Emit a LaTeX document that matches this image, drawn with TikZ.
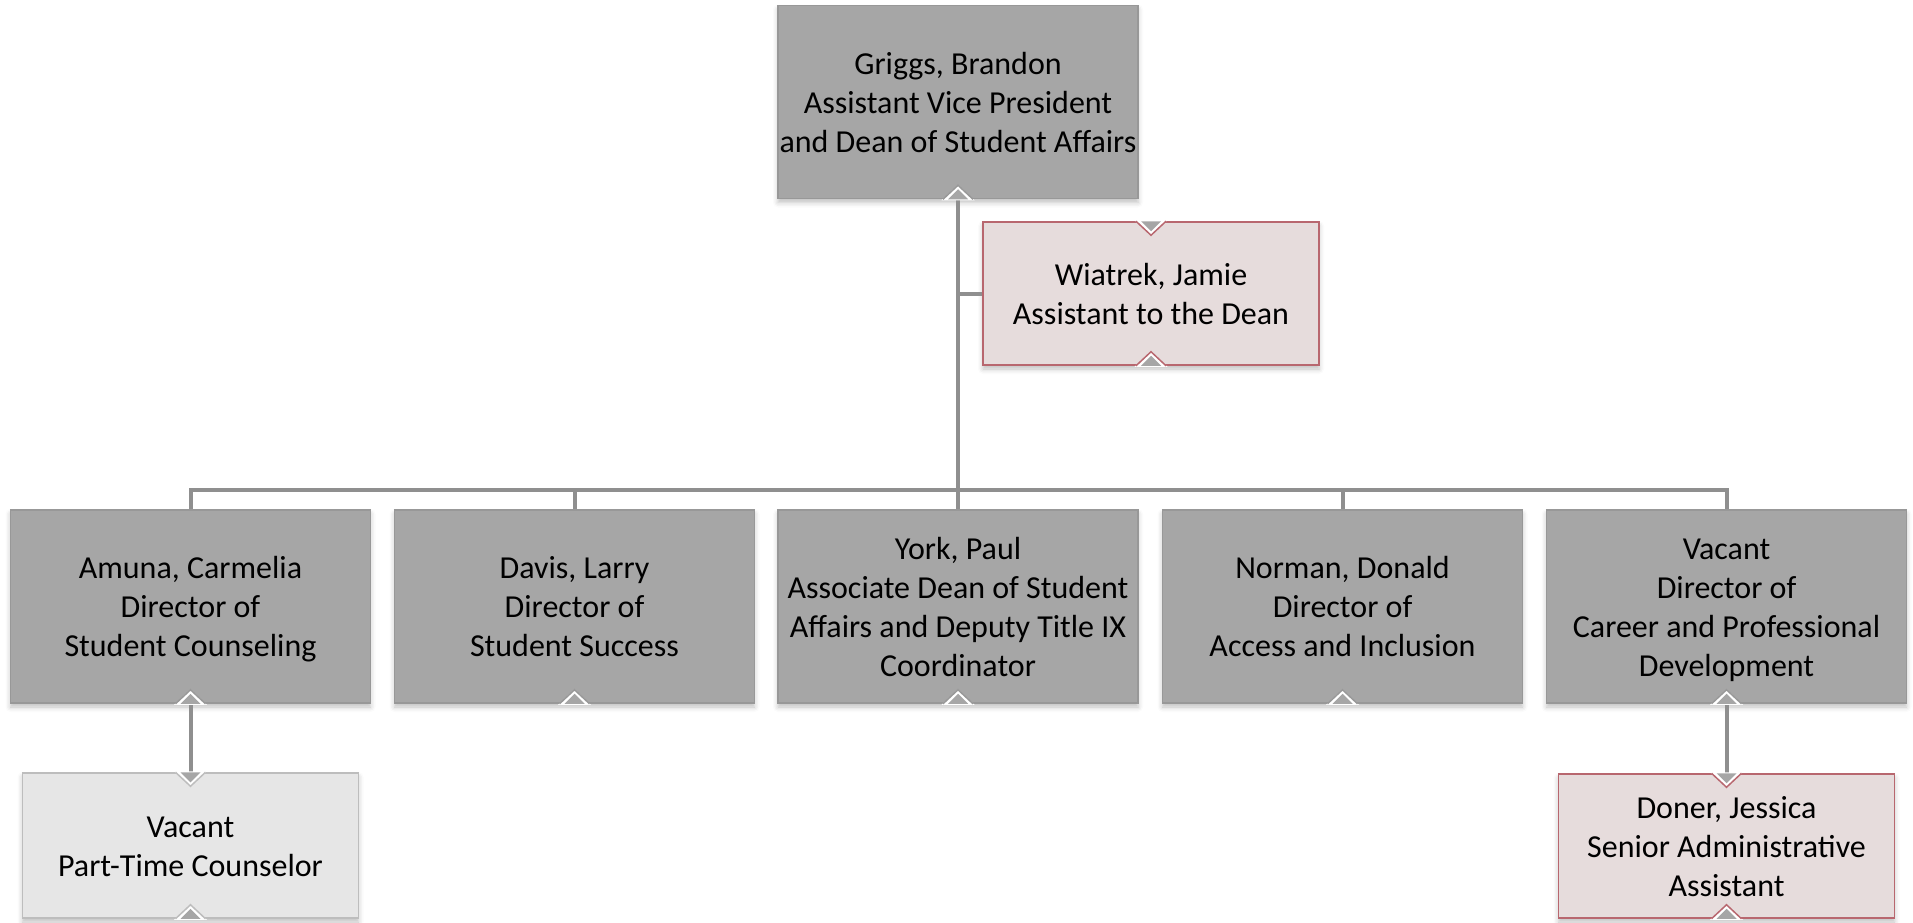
\documentclass[tikz,border=0pt]{standalone}
\usepackage{fontspec}
\setmainfont{Carlito}
\usetikzlibrary{shadows.blur}
\definecolor{boxgray}{HTML}{A6A6A6}
\definecolor{boxgrayline}{HTML}{989898}
\definecolor{pinkfill}{HTML}{E6DCDC}
\definecolor{pinkline}{HTML}{B8676F}
\definecolor{lightfill}{HTML}{E6E6E6}
\definecolor{lightline}{HTML}{BDBDBD}
\definecolor{linkgray}{HTML}{8F8F8F}
\definecolor{arrowgray}{HTML}{A6A6A6}
\newcommand\hs{\rule{0pt}{30pt}}
\newcommand\ds{\rule[-7.5pt]{0pt}{7.5pt}}
\tikzset{
  orgbox/.style={rectangle, align=center, inner sep=0pt, line width=1.5pt,
    font=\fontsize{32}{39}\selectfont,
    blur shadow={shadow xshift=0pt, shadow yshift=-4pt, shadow blur radius=5pt, shadow opacity=25}},
  graybox/.style={orgbox, fill=boxgray, draw=boxgrayline, minimum width=360pt, minimum height=193pt},
  pinkbox/.style={orgbox, fill=pinkfill, draw=pinkline, minimum width=336pt, minimum height=143pt},
  lightbox/.style={orgbox, fill=lightfill, draw=lightline, minimum width=336pt, minimum height=145pt},
  link/.style={draw=linkgray, line width=4pt}
}
\newcommand\notchbot[2]{%
  \fill[white] (#1.south) ++(-16.5,1) -- ++(16.5,-15.5) -- ++(16.5,15.5) -- cycle;
  \draw[#2, line width=1.5pt] (#1.south) ++(-15,0) -- ++(15,-14) -- ++(15,14);
  \fill[arrowgray] (#1.south) ++(-10,0) -- ++(10,-10) -- ++(10,10) -- cycle;
}
\newcommand\notchtop[2]{%
  \fill[white] (#1.north) ++(-16.5,-1) -- ++(16.5,15.5) -- ++(16.5,-15.5) -- cycle;
  \draw[#2, line width=1.5pt] (#1.north) ++(-15,0) -- ++(15,14) -- ++(15,-14);
  \fill[arrowgray] (#1.north) ++(-10,0) -- ++(10,10) -- ++(10,-10) -- cycle;
}
\begin{document}
\begin{tikzpicture}[x=1pt, y=-1pt]
\useasboundingbox (0,0) rectangle (1913,923);
% nodes
\node[graybox] (griggs) at (958,102) {\hs Griggs, Brandon\\Assistant Vice President\\and Dean of Student Affairs\ds};
\node[pinkbox] (wiatrek) at (1151,293.5) {\hs Wiatrek, Jamie\\Assistant to the Dean\ds};
\node[graybox] (amuna) at (190.5,606.5) {\hs Amuna, Carmelia\\Director of\\Student Counseling\ds};
\node[graybox] (davis) at (574.5,606.5) {\hs Davis, Larry\\Director of\\Student Success\ds};
\node[graybox] (york) at (958,606.5) {\hs York, Paul\\Associate Dean of Student\\Affairs and Deputy Title IX\\Coordinator\ds};
\node[graybox] (norman) at (1342.5,606.5) {\hs Norman, Donald\\Director of\\Access and Inclusion\ds};
\node[graybox] (vacant) at (1726.5,606.5) {\hs Vacant\\Director of\\Career and Professional\\Development\ds};
\node[lightbox] (parttime) at (190.5,845.5) {\hs Vacant\\Part-Time Counselor\ds};
\node[pinkbox, minimum height=144pt] (doner) at (1726.5,846) {\hs Doner, Jessica\\Senior Administrative\\Assistant\ds};
% connectors
\coordinate (bus) at (958,490);
\draw[link] (griggs.south) -- (york.north);
\draw[link] (wiatrek.west) -- (wiatrek.west -| griggs.south);
\draw[link] (amuna.north) |- (bus) -| (vacant.north);
\draw[link] (davis.north) -- (davis.north |- bus);
\draw[link] (norman.north) -- (norman.north |- bus);
\draw[link] (amuna.south) -- (parttime.north);
\draw[link] (vacant.south) -- (doner.north);
% notches
\notchbot{griggs}{boxgrayline}
\notchbot{amuna}{boxgrayline}
\notchbot{davis}{boxgrayline}
\notchbot{york}{boxgrayline}
\notchbot{norman}{boxgrayline}
\notchbot{vacant}{boxgrayline}
\notchtop{wiatrek}{pinkline}
\notchbot{wiatrek}{pinkline}
\notchtop{parttime}{lightline}
\notchbot{parttime}{lightline}
\notchtop{doner}{pinkline}
\notchbot{doner}{pinkline}
\end{tikzpicture}
\end{document}
